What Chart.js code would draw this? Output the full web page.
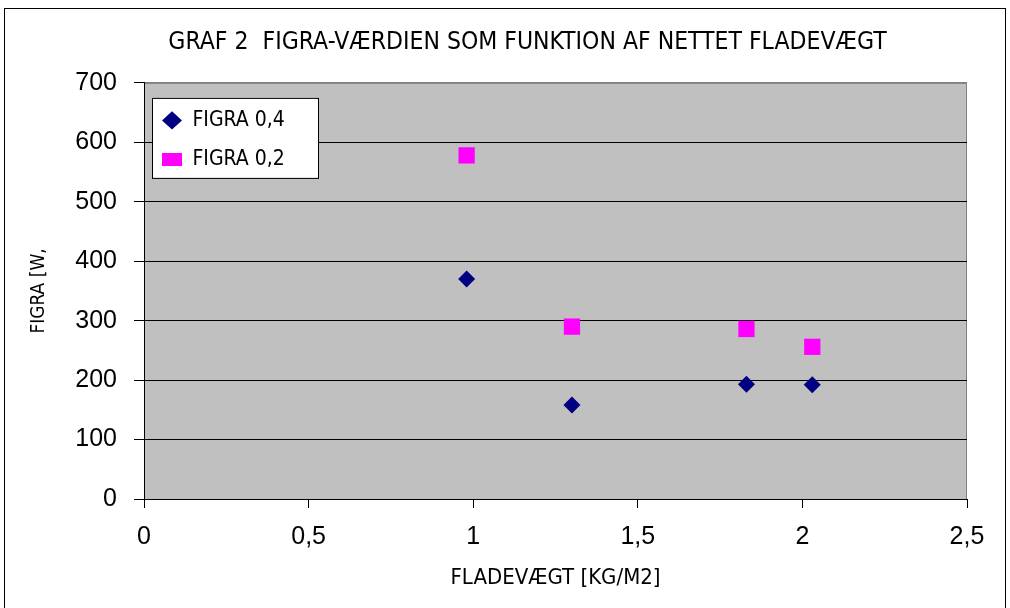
<!DOCTYPE html>
<html>
<head>
<meta charset="utf-8">
<script src="https://cdn.jsdelivr.net/npm/chart.js@4.4.1/dist/chart.umd.min.js"></script>
<style>
    html, body { margin: 0; padding: 0; background: #fff; }
    #frame { position: absolute; left: 4px; top: 8px; width: 1000px; height: 620px; border: 1px solid #000; }
    #wrap { position: absolute; left: 0; top: 0; width: 1010px; height: 608px; }
</style>
</head>
<body>
<div id="frame"></div>
<div id="wrap"><canvas id="figraChart"></canvas></div>
<script>
// values
const fladevaegt = [0.98, 1.30, 1.83, 2.03];   // kg/m2
const figra04 = [370, 158, 193, 192];
const figra02 = [578, 290, 286, 256];
const seriesNames = ['FIGRA 0,4', 'FIGRA 0,2'];
const xTicks = [0, 0.5, 1, 1.5, 2, 2.5];
const yTicks = [0, 100, 200, 300, 400, 500, 600, 700];

const NARROW = '"Liberation Sans Narrow", "DejaVu Sans Condensed", "Liberation Sans", sans-serif';
const ARIAL = '"Liberation Sans", Arial, sans-serif';

// grey plot area + legend box drawn like the old excel chart
const plotArea = {
    id: 'plotArea',
    beforeDraw(chart) {
        const { ctx, chartArea: a } = chart;
        ctx.save();
        ctx.fillStyle = '#c0c0c0';
        ctx.fillRect(a.left, a.top, a.right - a.left, a.bottom - a.top);
        ctx.strokeStyle = '#808080';
        ctx.lineWidth = 1;
        ctx.strokeRect(a.left + 0.5, a.top + 0.5, a.right - a.left - 1, a.bottom - a.top);
        ctx.restore();
    },
    afterLayout(chart) {
        // put the legend inside the plot, top left
        const lg = chart.legend;
        const a = chart.chartArea;
        const w = lg.width, h = lg.height;
        lg.left = a.left;
        lg.right = a.left + w;
        lg.top = a.top + 9;
        lg.bottom = a.top + 9 + h;
        // title sits a little right of canvas centre in the original
        const t = chart.titleBlock;
        t.left += 39;
        t.right += 39;
    },
    afterDraw(chart) {
        const { ctx, chartArea: a } = chart;
        ctx.save();
        ctx.fillStyle = '#fff';
        ctx.fillRect(a.left + 8, a.top + 15, 166, 80);
        ctx.strokeStyle = '#000';
        ctx.lineWidth = 1;
        ctx.strokeRect(a.left + 8.5, a.top + 15.5, 166, 80);
        ctx.restore();
        chart.legend.draw();
    }
};

const fmt = v => String(v).replace('.', ',');

new Chart(document.getElementById('figraChart'), {
    type: 'scatter',
    data: {
        datasets: [{
            label: seriesNames[0],
            data: fladevaegt.map((x, i) => ({ x: x, y: figra04[i] })),
            pointStyle: 'rectRot',
            pointRadius: 8.5,
            pointHoverRadius: 8.5,
            backgroundColor: '#000080',
            borderColor: '#000080',
            borderWidth: 0
        }, {
            label: seriesNames[1],
            data: fladevaegt.map((x, i) => ({ x: x, y: figra02[i] })),
            pointStyle: 'rect',
            pointRadius: 11.5,
            pointHoverRadius: 11.5,
            backgroundColor: '#ff00ff',
            borderColor: '#ff00ff',
            borderWidth: 0
        }]
    },
    options: {
        responsive: true,
        maintainAspectRatio: false,
        animation: false,
        layout: { padding: { left: 10, right: 43, top: 0, bottom: 0 } },
        plugins: {
            title: {
                display: true,
                text: 'GRAF 2  FIGRA-VÆRDIEN SOM FUNKTION AF NETTET FLADEVÆGT',
                color: '#000',
                font: { family: NARROW, size: 24.5, weight: 'normal' },
                padding: { top: 28, bottom: 25.5 }
            },
            legend: {
                position: 'chartArea',
                align: 'start',
                labels: {
                    usePointStyle: true,
                    boxWidth: 20,
                    pointStyleWidth: 20,
                    boxHeight: 13,
                    padding: 18,
                    color: '#000',
                    font: { family: NARROW, size: 21 }
                }
            },
            tooltip: { enabled: false }
        },
        scales: {
            x: {
                type: 'linear',
                min: 0,
                max: 2.5,
                afterBuildTicks: s => { s.ticks = xTicks.map(v => ({ value: v })); },
                afterFit: s => { s.height = 608 - 499; },
                ticks: {
                    callback: fmt,
                    color: '#000',
                    padding: 14,
                    maxRotation: 0,
                    font: { family: ARIAL, size: 25 }
                },
                grid: { drawOnChartArea: false, tickLength: 9, tickColor: '#000', color: '#000' },
                border: { color: '#000', width: 1 },
                title: {
                    display: true,
                    text: 'FLADEVÆGT [KG/M2]',
                    color: '#000',
                    font: { family: NARROW, size: 22 },
                    padding: { top: 0, bottom: 17 }
                }
            },
            y: {
                min: 0,
                max: 700,
                afterBuildTicks: s => { s.ticks = yTicks.map(v => ({ value: v })); },
                afterFit: s => { s.width = 144 - 10; },
                ticks: {
                    color: '#000',
                    padding: 17,
                    font: { family: ARIAL, size: 25 }
                },
                grid: {
                    color: c => (c.tick && c.tick.value === 700) ? '#808080' : '#000',
                    tickColor: '#000',
                    tickLength: 10,
                    lineWidth: 1
                },
                border: { color: '#000', width: 1 },
                title: {
                    display: true,
                    text: 'FIGRA [W,',
                    color: '#000',
                    font: { family: NARROW, size: 19 },
                    padding: { top: 18, bottom: 0 }
                }
            }
        }
    },
    plugins: [plotArea]
});
</script>
</body>
</html>
